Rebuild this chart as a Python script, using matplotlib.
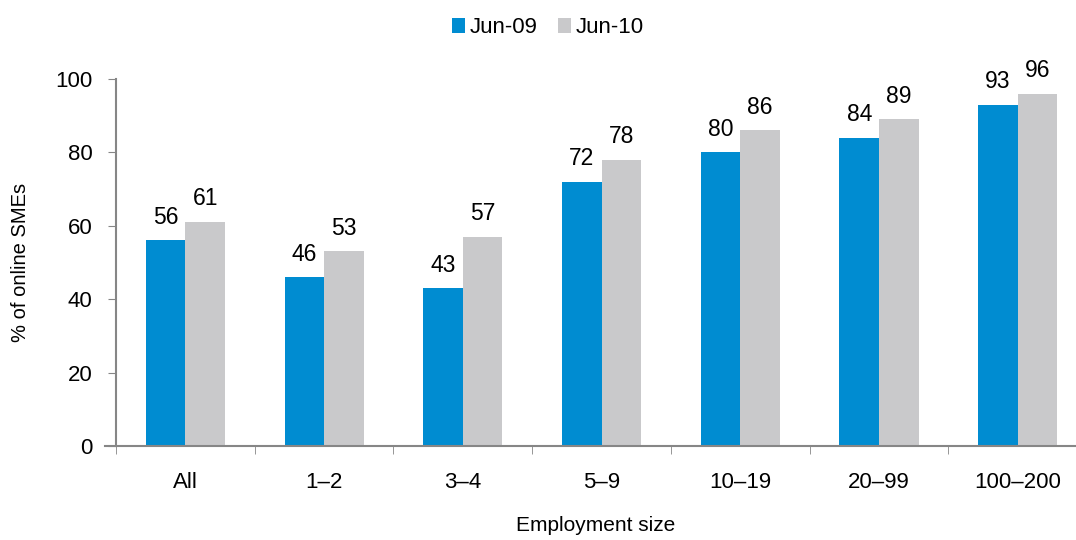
import matplotlib.pyplot as plt
import numpy as np

plt.rcParams["font.family"] = ["Liberation Sans", "DejaVu Sans"]

categories = ["All", "1\u20132", "3\u20134", "5\u20139", "10\u201319", "20\u201399", "100\u2013200"]
jun09 = [56, 46, 43, 72, 80, 84, 93]
jun10 = [61, 53, 57, 78, 86, 89, 96]
series_names = ["Jun-09", "Jun-10"]
colors = ["#008CD1", "#C9C9CB"]

fig = plt.figure(figsize=(10.76, 5.40), dpi=100)
ax = fig.add_axes([116 / 1076, 1 - 446 / 540, (1076 - 116) / 1076, (446 - 79) / 540])

x = np.arange(len(categories))
w = 0.285
b1 = ax.bar(x - w / 2, jun09, w, color=colors[0], label=series_names[0])
b2 = ax.bar(x + w / 2, jun10, w, color=colors[1], label=series_names[1])

for bars, vals in ((b1, jun09), (b2, jun10)):
    for rect, v in zip(bars, vals):
        ax.annotate(str(v), (rect.get_x() + rect.get_width() / 2, v),
                    xytext=(0, 12), textcoords="offset points",
                    ha="center", va="baseline", fontsize=16.5)

ax.set_ylim(0, 100)
ax.set_xlim(-0.5, 6.42)
ax.set_yticks(range(0, 101, 20))
ax.tick_params(axis="y", labelsize=16, length=6, color="#868686", direction="out", pad=11)
ax.set_xticks(x)
ax.set_xticklabels(categories)
ax.tick_params(axis="x", labelsize=16, length=0, pad=19)
ax.set_xticks(np.arange(-0.5, 6.5, 1), minor=True)
ax.tick_params(axis="x", which="minor", length=6, color="#868686", direction="out")

for s in ("top", "right"):
    ax.spines[s].set_visible(False)
for s in ("left", "bottom"):
    ax.spines[s].set_color("#868686")
    ax.spines[s].set_linewidth(1.5)
ax.spines["bottom"].set_bounds(-0.58, 6.42)

ax.set_ylabel("% of online SMEs", fontsize=14.5, labelpad=18)
ax.set_xlabel("Employment size", fontsize=15, labelpad=16)

fig.legend(loc="upper center", bbox_to_anchor=(0.509, 1.005), ncol=2, frameon=False,
           fontsize=16, handlelength=0.6, handleheight=0.6, handletextpad=0.2,
           columnspacing=0.9)

fig.savefig("out.png", dpi=100)
